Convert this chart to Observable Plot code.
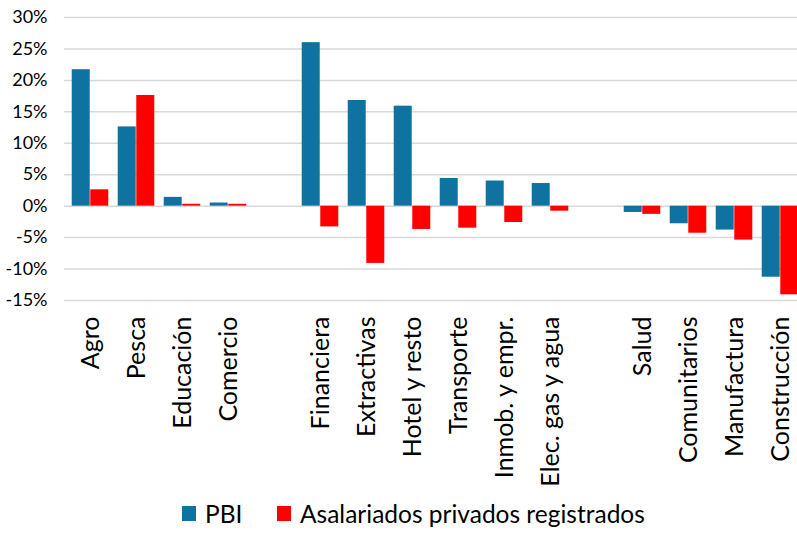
<!DOCTYPE html>
<html>
<head>
<meta charset="utf-8">
<script src="https://cdn.jsdelivr.net/npm/d3@7"></script>
<script src="https://cdn.jsdelivr.net/npm/@observablehq/plot@0.6"></script>
<style>
  html, body { margin: 0; padding: 0; background: #fff; overflow: hidden; }
  #chart { width: 797px; position: relative; }
  .legend { position: relative; height: 46px; font-family: Lato, sans-serif; font-size: 24.5px; color: #000; }
  .item { position: absolute; top: 0; height: 46px; display: flex; align-items: center; }
  .sw { width: 14px; height: 15px; margin-right: 9px; }
</style>
</head>
<body>
<div id="chart"></div>
<script>
const categories = ["Agro","Pesca","Educación","Comercio"," ","Financiera","Extractivas","Hotel y resto","Transporte","Inmob. y empr.","Elec. gas y agua","  ","Salud","Comunitarios","Manufactura","Construcción"];
const sectors = ["Agro","Pesca","Educación","Comercio","Financiera","Extractivas","Hotel y resto","Transporte","Inmob. y empr.","Elec. gas y agua","Salud","Comunitarios","Manufactura","Construcción"];
const pbi = [21.7,12.6,1.4,0.5,26.0,16.8,15.9,4.4,4.0,3.6,-1.0,-2.8,-3.8,-11.3];
const asalariados = [2.6,17.6,0.3,0.3,-3.3,-9.1,-3.7,-3.5,-2.6,-0.8,-1.3,-4.3,-5.4,-14.1];
const yTicks = [-15,-10,-5,0,5,10,15,20,25,30];
const seriesNames = ["PBI","Asalariados privados registrados"];
const colors = ["#0e73a1","#ff0000"];

const dataPBI = sectors.map((c,i) => ({cat: c, value: pbi[i]}));
const dataAsal = sectors.map((c,i) => ({cat: c, value: asalariados[i]}));

const W = 797, H = 490, ml = 64, mr = -9, mt = 17, mb = 190;
const pIn = 0.6, pOut = 0.3;
const step = (W - ml - mr) / (categories.length - pIn + 2*pOut);
const half = step * (1 - pIn) / 2;

const chart = Plot.plot({
  width: W, height: H,
  marginLeft: ml, marginRight: mr, marginTop: mt, marginBottom: mb,
  style: {fontFamily: "Lato, sans-serif", color: "#000", background: "#fff"},
  x: {domain: categories, paddingInner: pIn, paddingOuter: pOut, axis: null},
  y: {domain: [-15, 30], axis: null},
  marks: [
    Plot.ruleY(yTicks, {stroke: "#d9d9d9", strokeWidth: 1.5}),
    Plot.barY(dataPBI, {x: "cat", y: "value", fill: colors[0], dx: -half}),
    Plot.barY(dataAsal, {x: "cat", y: "value", fill: colors[1], dx: half}),
    Plot.axisY(yTicks, {tickSize: 0, tickPadding: 17, fontSize: 18, label: null, tickFormat: d => d + "%"}),
    Plot.axisX({tickSize: 0, tickPadding: 16, tickRotate: -90, fontSize: 25, label: null, tickFormat: d => d.trim()})
  ]
});
document.getElementById("chart").appendChild(chart);

const legend = document.createElement("div");
legend.className = "legend";
const lefts = [182, 277];
seriesNames.forEach((name, i) => {
  const it = document.createElement("div");
  it.className = "item";
  it.style.left = lefts[i] + "px";
  const sw = document.createElement("span");
  sw.className = "sw";
  sw.style.background = colors[i];
  const tx = document.createElement("span");
  tx.textContent = name;
  it.appendChild(sw); it.appendChild(tx);
  legend.appendChild(it);
});
document.getElementById("chart").appendChild(legend);
</script>
</body>
</html>
